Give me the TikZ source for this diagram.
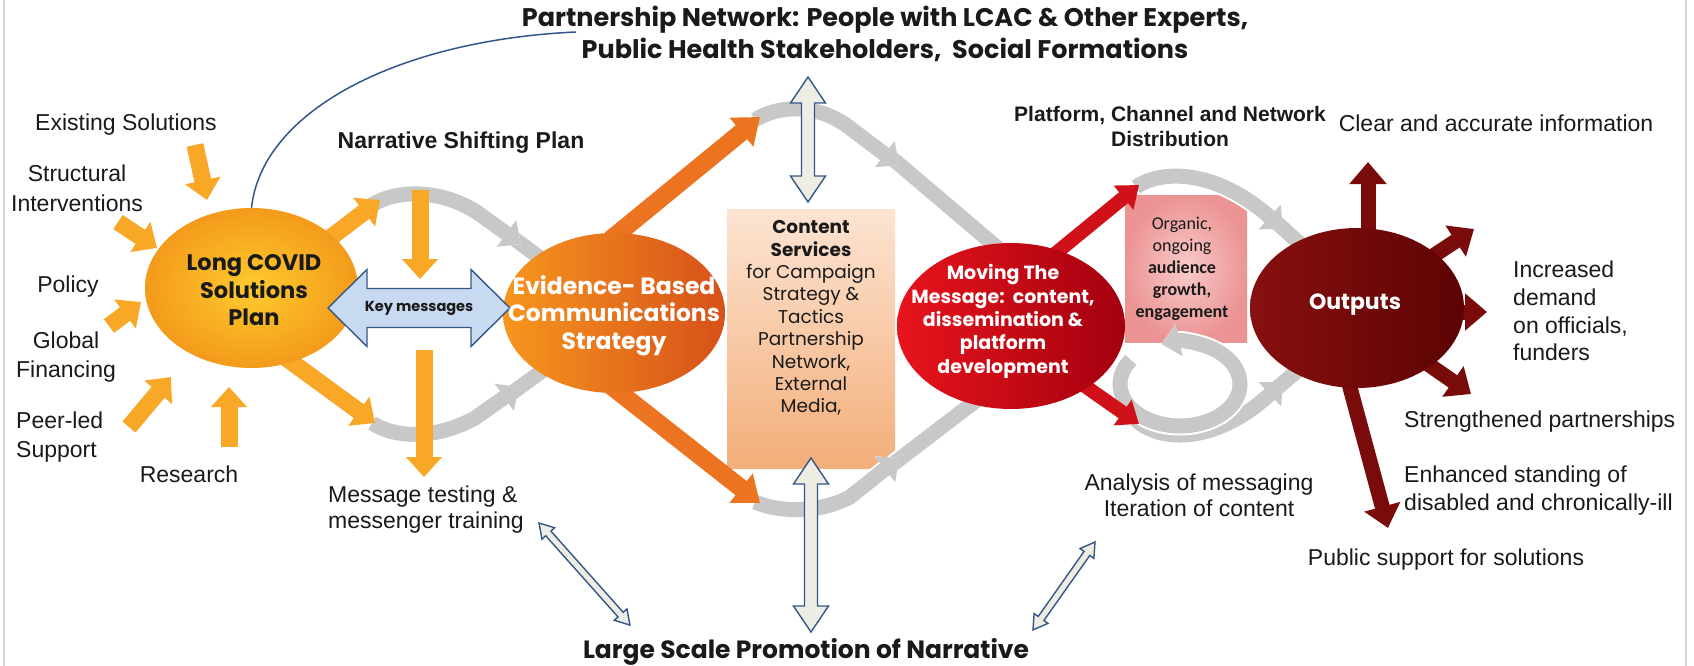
\documentclass[tikz,border=0pt]{standalone}
\usepackage{fontspec}
\setmainfont{Liberation Sans}
\newfontfamily\popfont{Poppins}
\newfontfamily\calfont{Carlito}
\usetikzlibrary{arrows.meta,shapes.geometric,calc}
\newcommand\setfs[2]{\fontsize{#1}{#2}\selectfont}

\definecolor{orY}{HTML}{F9A727}
\definecolor{orE}{HTML}{EC7421}
\definecolor{redM}{HTML}{D0111A}
\definecolor{redO}{HTML}{7A0B0B}
\definecolor{bandgray}{HTML}{C8C8C8}
\definecolor{navy}{HTML}{34578A}
\definecolor{pale}{HTML}{EEEDE4}
\definecolor{keyblue}{HTML}{C7DAF1}
\definecolor{framegray}{HTML}{D6D6D6}
\definecolor{ink}{HTML}{1A1A1A}
\definecolor{planIn}{HTML}{FFCB2E}
\definecolor{planOut}{HTML}{F39A1B}
\definecolor{stratL}{HTML}{F7961E}
\definecolor{stratR}{HTML}{D6511A}
\definecolor{moveL}{HTML}{E8141C}
\definecolor{moveR}{HTML}{A3000F}
\definecolor{outL}{HTML}{881010}
\definecolor{outR}{HTML}{5C0303}
\definecolor{peachTop}{HTML}{FCE4D2}
\definecolor{peachBot}{HTML}{F3AE7A}
\definecolor{pinkIn}{HTML}{F9CACA}
\definecolor{pinkOut}{HTML}{EC9494}

\begin{document}
\begin{tikzpicture}[x=1pt,y=-1pt,
  fatY/.style={draw=orY, line width=17pt, -{Triangle[width=35pt,length=20pt]}},
  fatE/.style={draw=orE, line width=18pt, -{Triangle[width=36pt,length=24pt]}},
  fatM/.style={draw=redM, line width=14pt, -{Triangle[width=30pt,length=20pt]}},
  fatO/.style={draw=redO, line width=15pt, -{Triangle[width=36pt,length=22pt]}},
  grayband/.style={draw=bandgray, line width=15pt, preaction={draw=white, line width=19pt}},
  bandhead/.style={grayband, -{Triangle[width=32pt,length=18pt]}},
  hollow/.style={draw=navy, line width=1.4pt, fill=pale, line join=miter},
  lbl/.style={font=\setfs{23}{28}, text=ink, inner sep=0pt, align=center},
  boldlbl/.style={lbl, font=\bfseries\setfs{23}{28}},
  hdr/.style={font=\popfont\bfseries\setfs{25.5}{32}, text=ink, inner sep=0pt, align=center},
  bigell/.style={ellipse, inner sep=0pt, draw=none},
  pics/hollowarrow/.style n args={5}{code={
    \draw[hollow,#5] (0,0) -- (#4,#3) -- (#4,#2) -- ({#1-#4},#2) -- ({#1-#4},#3)
      -- (#1,0) -- ({#1-#4},-#3) -- ({#1-#4},-#2) -- (#4,-#2) -- (#4,-#3) -- cycle;
  }},
]
\useasboundingbox[fill=white] (0,0) rectangle (1694,666);
\draw[framegray, line width=2pt] (4,0) -- (4,666);
\draw[framegray, line width=2pt] (1686,0) -- (1686,666);

% ---------- main ellipses (positions only; drawn later) ----------
\path (251.5,288) node[bigell, minimum width=213pt, minimum height=160pt] (lcs) {};
\path (614,313) node[bigell, minimum width=222pt, minimum height=160pt] (ebc) {};
\path (1011,326) node[bigell, minimum width=228pt, minimum height=166pt] (mtm) {};
\path (1357,308) node[bigell, minimum width=214pt, minimum height=160pt] (outp) {};
\coordinate (curveEnd) at (576,32);

% thin link from the plan up to the partnership network
\draw[navy, line width=1.5pt] (lcs.north) .. controls (262,110) and (400,40) .. (curveEnd);

% ---------- boxes ----------
\node[draw=none, minimum width=168pt, minimum height=259pt, inner sep=0pt,
      top color=peachTop, bottom color=peachBot]
      (content) at (811,338.5) {};
\node[draw=none, minimum width=122pt, minimum height=147pt, inner sep=0pt,
      inner color=pinkIn, outer color=pinkOut]
      (organic) at (1186,268.5) {};

% ---------- grey flow bands ----------
\draw[grayband] (505,232) -- (562,274);
\draw[bandhead] (372,205) .. controls (395,190) and (440,188) .. (478,213) -- (521,244);
\draw[grayband] (505,398) -- (560,358);
\draw[bandhead] (372,423) .. controls (395,438) and (435,440) .. (475,418) -- (519,387);

\draw[grayband] (880,148) -- (1000,250);
\draw[bandhead] (755,120) .. controls (778,105) and (818,103) .. (850,128) -- (899,165);
\draw[grayband] (880,474) -- (990,390);
\draw[bandhead] (755,502) .. controls (778,512) and (818,514) .. (850,497) -- (899,458);

\draw[grayband] (1265,212) -- (1320,262);
\draw[bandhead] (1136,187) .. controls (1160,170) and (1215,168) .. (1283,229);
\draw[grayband] (1265,398) -- (1320,352);
\draw[bandhead] (1136,420) .. controls (1160,442) and (1215,445) .. (1283,382);

% feedback loop
\coordinate (ringC) at (1180,384);
\draw[bandhead] ($(ringC)+(215:60 and 42)$) arc[start angle=215, end angle=-108, x radius=60, y radius=42];

% ---------- hollow double arrows ----------
\pic[rotate=-90] at (808,77) {hollowarrow={125}{6.5}{17.5}{26}{}};
\pic[rotate=-90] at (811,458) {hollowarrow={174}{6.5}{17.5}{26}{}};
\pic[rotate=-48.3] at (539,523) {hollowarrow={136.7}{3.5}{8.5}{14}{}};
\pic[rotate=-125.2] at (1095,542) {hollowarrow={107.6}{3.5}{8.5}{14}{}};

% ---------- block arrows ----------
\draw[fatY] (195,145) -- (207,200);
\draw[fatY] (118,222) -- (157,248);
\draw[fatY] (109,326) -- (141,302);
\draw[fatY] (129,427) -- (171,377);
\draw[fatY] (229,447) -- (229,387);
\draw[fatY] (330,238) -- (380,200);
\draw[fatY] (282,355) -- (375,423);
\draw[fatY] (420,190) -- (420,279);
\draw[fatY] (424,350) -- (424,477);

\draw[fatE] (610,240) -- (760,117);
\draw[fatE] (610,385) -- (760,503);

\draw[fatM] (1050,258) -- (1139,185);
\draw[fatM] (1055,365) -- (1139,424);

\draw[fatO] (1368,240) -- (1368,162);
\draw[fatO] (1430,258) -- (1474,229);
\draw[fatO] (1450,312) -- (1487,312);
\draw[fatO] (1425,362) -- (1471,394);
\draw[fatO] (1348,380) -- (1388,528);

% ---------- ellipses ----------
\path (lcs) node[bigell, minimum width=213pt, minimum height=160pt,
      inner color=planIn, outer color=planOut] {};
\path (ebc) node[bigell, minimum width=222pt, minimum height=160pt,
      left color=stratL, right color=stratR] {};
\path (mtm) node[bigell, minimum width=228pt, minimum height=166pt,
      left color=moveL, right color=moveR] {};
\path (outp) node[bigell, minimum width=214pt, minimum height=160pt,
      left color=outL, right color=outR] {};

% key messages connector
\pic at (328,308) {hollowarrow={182}{19.5}{38.5}{39}{fill=keyblue}};

% ---------- texts ----------
\node[hdr] (partner) at (885,34) {Partnership Network: People with LCAC \& Other Experts,\\Public Health Stakeholders,\ \ Social Formations};
\node[hdr, font=\popfont\bfseries\setfs{25}{30}] (promo) at (806,652) {Large Scale Promotion of Narrative};

\node[lbl] (existing) at (126,125) {Existing Solutions};
\node[lbl, font=\setfs{23}{30}] (structural) at (77,188) {Structural\\Interventions};
\node[lbl] (policy) at (68,287) {Policy};
\node[lbl, font=\setfs{23}{29}] (global) at (66,357) {Global\\Financing};
\node[lbl, font=\setfs{23}{29}, anchor=west, align=left] (peer) at (16,437) {Peer-led\\Support};
\node[lbl] (research) at (189,474) {Research};
\node[lbl, font=\setfs{23}{26}, anchor=west, align=left] (testing) at (328,510) {Message testing \&\\messenger training};
\node[boldlbl] (shifting) at (461,143) {Narrative Shifting Plan};
\node[lbl, font=\bfseries\setfs{21}{25}] (distrib) at (1170,126) {Platform, Channel and Network\\Distribution};
\node[lbl] (clear) at (1496,123) {Clear and accurate information};
\node[lbl, font=\setfs{23}{27.7}, anchor=west, align=left] (demand) at (1513,311) {Increased\\demand\\on officials,\\funders};
\node[lbl, anchor=west] (strength) at (1404,422) {Strengthened partnerships};
\node[lbl, font=\setfs{23}{28}, anchor=west, align=left] (standing) at (1404,491) {Enhanced standing of\\disabled and chronically-ill};
\node[lbl] (public) at (1446,560) {Public support for solutions};
\node[lbl, font=\setfs{23}{26}] (analysis) at (1199,495) {Analysis of messaging\\Iteration of content};

\node[lbl, font=\popfont\bfseries\setfs{22.5}{27.5}] (lcsT) at (254,290.5) {Long COVID\\Solutions\\Plan};
\node[lbl, font=\popfont\bfseries\setfs{14.5}{17}, text=ink] (keyT) at (419,308) {Key messages};
\node[lbl, font=\popfont\bfseries\setfs{23.5}{27.5}, text=white] (ebcT) at (614,315.5) {Evidence- Based\\Communications\\Strategy};
\node[lbl, font=\popfont\setfs{18.5}{22.4}] (contentT) at (811,318) {{\bfseries Content}\\{\bfseries Services}\\for Campaign\\Strategy \&\\Tactics\\Partnership\\Network,\\External\\Media,};
\node[lbl, font=\popfont\bfseries\setfs{19}{23.3}, text=white] (mtmT) at (1003,321.5) {Moving The\\Message:\ \ content,\\dissemination \&\\platform\\development};
\node[lbl, font=\calfont\setfs{18}{22}] (organicT) at (1182,269) {Organic,\\ongoing\\\textbf{audience}\\\textbf{growth,}\\\textbf{engagement}};
\node[lbl, font=\popfont\bfseries\setfs{22}{26}, text=white] (outT) at (1355,305) {Outputs};
\end{tikzpicture}
\end{document}
